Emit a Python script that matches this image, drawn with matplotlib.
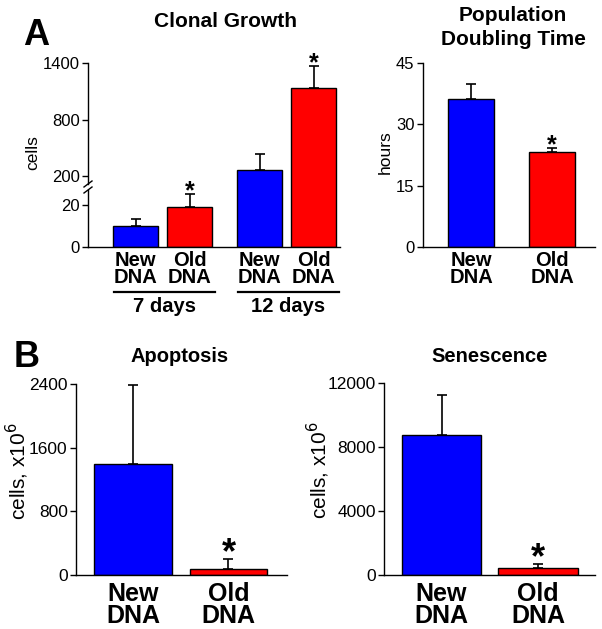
import numpy as np
import matplotlib
matplotlib.use('Agg')
import matplotlib.pyplot as plt

plt.rcParams['font.family'] = ['Liberation Sans', 'DejaVu Sans']

# Data
clonal_labels = ['New\nDNA', 'Old\nDNA', 'New\nDNA', 'Old\nDNA']
clonal_vals = [9.8, 18.9, 264, 1138]
clonal_err = [3.4, 6.1, 170, 230]
clonal_sig = [False, True, False, True]
clonal_groups = ['7 days', '12 days']

pair_labels = ['New\nDNA', 'Old\nDNA']
doubling_vals = [36.3, 23.2]
doubling_err = [3.7, 1.1]
apoptosis_vals = [1400, 70]
apoptosis_err = [990, 135]
senescence_vals = [8770, 456]
senescence_err = [2460, 234]
pair_sig = [False, True]

colors = ['#0000FF', '#FF0000', '#0000FF', '#FF0000']

W, H = 602, 629
fig = plt.figure(figsize=(W / 100, H / 100), dpi=100)


def px_axes(left, right, top, bottom):
    return fig.add_axes([left / W, 1 - bottom / H, (right - left) / W, (bottom - top) / H])


def ftext(x, y, s, **kw):
    fig.text(x / W, 1 - y / H, s, **kw)


def style(ax, tick_fs):
    for s in ['top', 'right']:
        ax.spines[s].set_visible(False)
    ax.spines['left'].set_linewidth(1.0)
    ax.spines['bottom'].set_linewidth(1.0)
    ax.tick_params(axis='x', length=0)
    ax.tick_params(axis='y', length=4, width=1.0, pad=2, labelsize=tick_fs)


def bars(ax, xs, vals, errs, sig, width, star_fs, star_off, cols):
    ax.bar(xs, vals, width=width, color=cols, edgecolor='black', linewidth=1.0, zorder=2)
    ax.errorbar(xs, vals, yerr=[np.zeros(len(vals)), errs], fmt='none', ecolor='black',
                elinewidth=1.2, capsize=3.5, capthick=1.2, zorder=3)
    for x, v, e, s in zip(xs, vals, errs, sig):
        if s:
            ax.annotate('*', xy=(x, v + e), xytext=(0, star_off), textcoords='offset points',
                        ha='center', va='baseline', fontsize=star_fs, fontweight='bold',
                        annotation_clip=False)


# ---------- A: Clonal Growth (broken axis) ----------
brk_v = [-1000, 0, 25, 150, 1400, 3000]
brk_p = [-2100, 0, 52.5, 65.8, 183.5, 334.2]


def fwd(v):
    return np.interp(v, brk_v, brk_p)


def inv(p):
    return np.interp(p, brk_p, brk_v)


ax1 = px_axes(88, 340, 63, 247)
ax1.set_yscale('function', functions=(fwd, inv))
cx = [0, 1, 2.3, 3.3]
bars(ax1, cx, clonal_vals, clonal_err, clonal_sig, 0.833, 18, -3, colors)
ax1.set_ylim(0, 1400)
ax1.set_xlim(-0.88, 3.787)
style(ax1, 12)
ax1.set_yticks([0, 20, 200, 800, 1400])
ax1.set_yticklabels(['0', '20', '200', '800', '1400'])
ax1.set_xticks(cx)
ax1.set_xticklabels(clonal_labels, fontsize=14.5, fontweight='bold', linespacing=0.85)
ax1.tick_params(axis='x', pad=3)
ax1.minorticks_off()
# left spine drawn by hand with a break
ax1.spines['left'].set_visible(False)
ah = 184.0


def ay(p):
    return (247 - p) / ah


ax1.plot([0, 0], [ay(63), ay(184)], color='black', lw=1.0, transform=ax1.transAxes, clip_on=False)
ax1.plot([0, 0], [ay(190), ay(247)], color='black', lw=1.0, transform=ax1.transAxes, clip_on=False)
dx = 4 / 252
for yp in (184, 190):
    ax1.plot([-dx, dx], [ay(yp + 3), ay(yp - 3)], color='black', lw=1.0,
             transform=ax1.transAxes, clip_on=False)
# group underlines
for (x0, x1), g in zip([(114, 215), (238, 339)], clonal_groups):
    ax1.plot([(x0 - 88) / 252, (x1 - 88) / 252], [ay(291.7), ay(291.7)], color='black', lw=1.6,
             transform=ax1.transAxes, clip_on=False)
    ftext((x0 + x1) / 2, 306.7, g, ha='center', va='center', fontsize=14.5, fontweight='bold')

ftext(36.5, 45, 'A', ha='center', va='baseline', fontsize=26, fontweight='bold')
ftext(225, 26.7, 'Clonal Growth', ha='center', va='baseline', fontsize=15, fontweight='bold')
ftext(33, 153, 'cells', ha='center', va='center', rotation=90, fontsize=12.5)

# ---------- A: Population Doubling Time ----------
ax2 = px_axes(422.7, 595, 63.3, 246.7)
bars(ax2, [0, 1], doubling_vals, doubling_err, pair_sig, 0.568, 18, -3, colors[:2])
ax2.set_ylim(0, 45)
ax2.set_xlim(-0.596, 1.53)
style(ax2, 12)
ax2.set_yticks([0, 15, 30, 45])
ax2.set_xticks([0, 1])
ax2.set_xticklabels(pair_labels, fontsize=14.5, fontweight='bold', linespacing=0.85)
ax2.tick_params(axis='x', pad=3)
ftext(513, 20.7, 'Population', ha='center', va='baseline', fontsize=15, fontweight='bold')
ftext(513, 45, 'Doubling Time', ha='center', va='baseline', fontsize=15, fontweight='bold')
ftext(385, 152, 'hours', ha='center', va='center', rotation=90, fontsize=12.5)

# ---------- B: Apoptosis ----------
ax3 = px_axes(76, 287, 384, 575)
bars(ax3, [0, 1], apoptosis_vals, apoptosis_err, pair_sig, 0.81, 26, -3, colors[:2])
ax3.set_ylim(0, 2400)
ax3.set_xlim(-0.597, 1.613)
style(ax3, 12.5)
ax3.set_yticks([0, 800, 1600, 2400])
ax3.set_xticks([0, 1])
ax3.set_xticklabels(pair_labels, fontsize=18, fontweight='bold', linespacing=0.9)
ax3.tick_params(axis='x', pad=5)
ftext(27, 366.7, 'B', ha='center', va='baseline', fontsize=26, fontweight='bold')
ftext(180, 361.7, 'Apoptosis', ha='center', va='baseline', fontsize=14.5, fontweight='bold')
ftext(17, 471, r'cells, x10$^6$', ha='center', va='center', rotation=90, fontsize=15)

# ---------- B: Senescence ----------
ax4 = px_axes(384, 595, 383, 575)
bars(ax4, [0, 1], senescence_vals, senescence_err, pair_sig, 0.82, 26, -3, colors[:2])
ax4.set_ylim(0, 12000)
ax4.set_xlim(-0.596, 1.59)
style(ax4, 12.5)
ax4.set_yticks([0, 4000, 8000, 12000])
ax4.set_xticks([0, 1])
ax4.set_xticklabels(pair_labels, fontsize=18, fontweight='bold', linespacing=0.9)
ax4.tick_params(axis='x', pad=5)
ftext(490, 361.7, 'Senescence', ha='center', va='baseline', fontsize=14.5, fontweight='bold')
ftext(318, 470, r'cells, x10$^6$', ha='center', va='center', rotation=90, fontsize=15)

fig.savefig('out.png', dpi=100)
